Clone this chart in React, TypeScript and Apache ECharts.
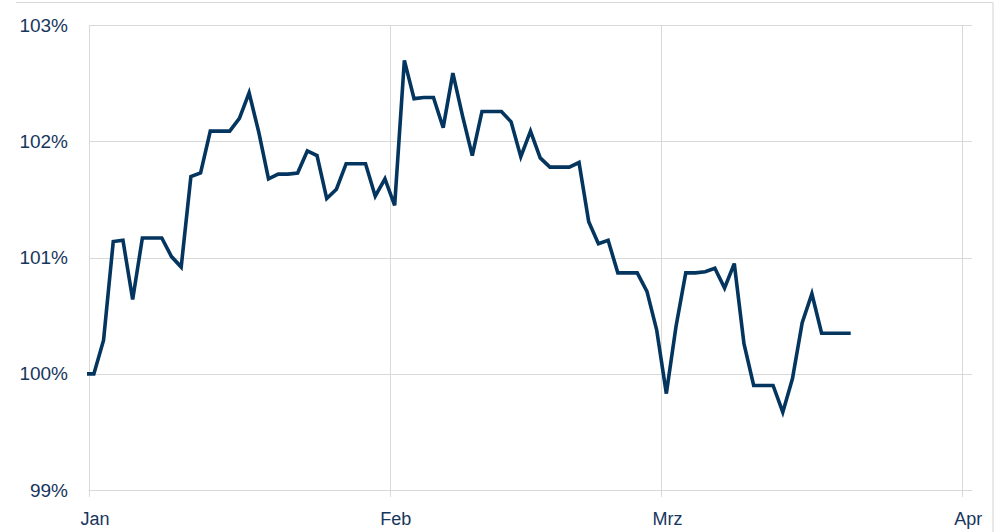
import React, { useEffect, useRef } from "react";
import * as echarts from "echarts";

// Daily dates (weekends carry Friday's value); Dec 31 is the base point (clipped at the axis start)
const dates: string[] = [
  "2022-12-31",
  "2023-01-01", "2023-01-02", "2023-01-03", "2023-01-04", "2023-01-05", "2023-01-06", "2023-01-07",
  "2023-01-08", "2023-01-09", "2023-01-10", "2023-01-11", "2023-01-12", "2023-01-13", "2023-01-14",
  "2023-01-15", "2023-01-16", "2023-01-17", "2023-01-18", "2023-01-19", "2023-01-20", "2023-01-21",
  "2023-01-22", "2023-01-23", "2023-01-24", "2023-01-25", "2023-01-26", "2023-01-27", "2023-01-28",
  "2023-01-29", "2023-01-30", "2023-01-31",
  "2023-02-01", "2023-02-02", "2023-02-03", "2023-02-04", "2023-02-05", "2023-02-06", "2023-02-07",
  "2023-02-08", "2023-02-09", "2023-02-10", "2023-02-11", "2023-02-12", "2023-02-13", "2023-02-14",
  "2023-02-15", "2023-02-16", "2023-02-17", "2023-02-18", "2023-02-19", "2023-02-20", "2023-02-21",
  "2023-02-22", "2023-02-23", "2023-02-24", "2023-02-25", "2023-02-26", "2023-02-27", "2023-02-28",
  "2023-03-01", "2023-03-02", "2023-03-03", "2023-03-04", "2023-03-05", "2023-03-06", "2023-03-07",
  "2023-03-08", "2023-03-09", "2023-03-10", "2023-03-11", "2023-03-12", "2023-03-13", "2023-03-14",
  "2023-03-15", "2023-03-16", "2023-03-17", "2023-03-18", "2023-03-19", "2023-03-20",
];

const values: number[] = [
  100.0,
  100.0, 100.29, 101.14, 101.15, 100.64, 101.17, 101.17,
  101.17, 101.01, 100.92, 101.7, 101.73, 102.09, 102.09,
  102.09, 102.2, 102.42, 102.08, 101.68, 101.72, 101.72,
  101.73, 101.92, 101.88, 101.51, 101.59, 101.81, 101.81,
  101.81, 101.53, 101.68,
  101.45, 102.7, 102.37, 102.38, 102.38, 102.12, 102.59,
  102.22, 101.88, 102.26, 102.26, 102.26, 102.17, 101.87,
  102.09, 101.86, 101.78, 101.78, 101.78, 101.82, 101.31,
  101.12, 101.15, 100.87, 100.87, 100.87, 100.71, 100.38,
  99.83, 100.41, 100.87, 100.87, 100.88, 100.91, 100.74,
  100.95, 100.26, 99.9, 99.9, 99.9, 99.67, 99.96,
  100.44, 100.69, 100.35, 100.35, 100.35, 100.35,
];

// Month tick labels at month starts (days since Jan 1)
const monthLabels: string[] = ["Jan", "Feb", "Mrz", "Apr"];
const monthStarts: string[] = ["2023-01-01", "2023-02-01", "2023-03-01", "2023-04-01"];
const axisEnd = "2023-04-02";

const yTicks: number[] = [99, 100, 101, 102, 103];

const DAY = 86400000;
const origin = Date.UTC(2023, 0, 1);
const dayOf = (s: string) => {
  const [y, m, d] = s.split("-").map(Number);
  return (Date.UTC(y, m - 1, d) - origin) / DAY;
};

const TEXT = "#17365D";
const GRID = "#D9D9D9";
const LINE = "#03355F";
const FONT = "'Liberation Sans', Arial, sans-serif";

export default function App() {
  const ref = useRef<HTMLDivElement>(null);

  useEffect(() => {
    if (!ref.current) return;
    const chart = echarts.init(ref.current, undefined, { renderer: "svg" });
    const tickVals = monthStarts.map(dayOf);
    const labelMap: Record<number, string> = {};
    tickVals.forEach((v, i) => (labelMap[v] = monthLabels[i]));
    const seriesData = dates.map((d, i) => [dayOf(d) + 0.5, values[i]]);

    chart.setOption({
      animation: false,
      backgroundColor: "#ffffff",
      grid: { left: 89, right: 31, top: 25.5, bottom: 42, containLabel: false },
      xAxis: {
        type: "value",
        min: 0,
        max: dayOf(axisEnd),
        axisLine: { show: true, lineStyle: { color: GRID, width: 1 } },
        axisTick: {
          show: true,
          customValues: tickVals,
          length: 7,
          lineStyle: { color: GRID, width: 1 },
        },
        axisLabel: {
          show: true,
          customValues: tickVals,
          formatter: (v: number) => labelMap[v] ?? "",
          color: TEXT,
          fontFamily: FONT,
          fontSize: 18,
          margin: 20,
          padding: [0, 0, 0, 12],
        },
        splitLine: { show: true, lineStyle: { color: GRID, width: 1 } },
      },
      yAxis: {
        type: "value",
        min: yTicks[0],
        max: yTicks[yTicks.length - 1],
        interval: 1,
        axisLine: { show: false },
        axisTick: { show: false },
        axisLabel: {
          color: TEXT,
          fontFamily: FONT,
          fontSize: 19,
          margin: 21,
          formatter: (v: number) => `${v}%`,
        },
        splitLine: { show: true, lineStyle: { color: GRID, width: 1 } },
      },
      graphic: [
        {
          type: "line",
          shape: { x1: 16, y1: 2.5, x2: 993, y2: 2.5 },
          style: { stroke: GRID, lineWidth: 1.2 },
          silent: true,
        },
        {
          type: "line",
          shape: { x1: 993, y1: 2.5, x2: 993, y2: 532 },
          style: { stroke: GRID, lineWidth: 1.2 },
          silent: true,
        },
      ],
      series: [
        {
          type: "line",
          data: seriesData,
          showSymbol: false,
          symbol: "none",
          clip: true,
          lineStyle: { color: LINE, width: 3.6, join: "miter", miterLimit: 4 },
        },
      ],
    });
    return () => chart.dispose();
  }, []);

  return (
    <div
      ref={ref}
      style={{ position: "fixed", left: 0, top: 0, width: 1003, height: 532 }}
    />
  );
}
